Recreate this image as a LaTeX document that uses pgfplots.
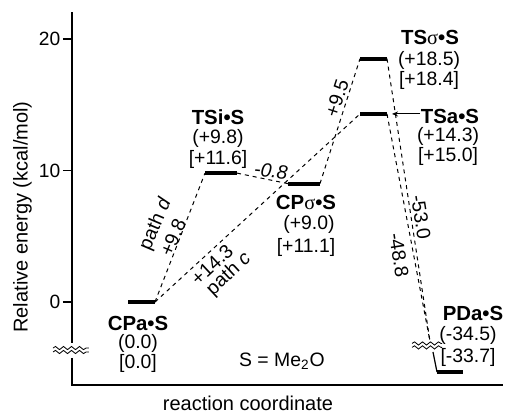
\documentclass[border=0pt]{standalone}
\usepackage{fontspec}
\setmainfont{Liberation Sans}
\newfontfamily\serifsym{Liberation Serif}
\usepackage{pgfplots}
\pgfplotsset{compat=1.18}
\usetikzlibrary{decorations.pathmorphing,arrows.meta}
\newcommand{\sig}{{\serifsym\mdseries σ}}
\newcommand{\bt}{\textbullet}
\begin{document}
\begin{tikzpicture}[font=\fontsize{9.7}{11}\selectfont]
\path[use as bounding box] (-36pt,-14.5pt) rectangle (218pt,192.5pt);
\begin{axis}[at={(0,0)}, anchor=south west, scale only axis,
  width=215.5pt, height=186.5pt,
  xmin=72, xmax=503, ymin=-6.31, ymax=22.05,
  axis x line*=bottom, axis y line*=left,
  axis line style={draw=none},
  xtick=\empty, ytick={0,10,20},
  tick align=outside, major tick length=4.5pt,
  tick style={black, line width=0.6pt},
  /pgf/number format/assume math mode=true,
  yticklabel style={font=\fontsize{9.6}{11}\selectfont, inner sep=1.2pt},
  clip=false]
% axis spines
\draw[line width=0.6pt] (axis cs:72,22.05) -- (axis cs:72,-3.1);
\draw[line width=0.6pt] (axis cs:72,-4.25) -- (axis cs:72,-6.31) -- (axis cs:503,-6.31);
\draw[line width=0.4pt, decorate, decoration={snake, segment length=4pt, amplitude=0.8pt}] (axis cs:53,-3.5) -- (axis cs:89,-3.5);
\draw[line width=0.4pt, decorate, decoration={snake, segment length=4pt, amplitude=0.8pt}] (axis cs:53,-3.8) -- (axis cs:89,-3.8);
\draw[line width=0.4pt, decorate, decoration={snake, segment length=4pt, amplitude=0.8pt}] (axis cs:412,-3.15) -- (axis cs:442,-3.15);
\draw[line width=0.4pt, decorate, decoration={snake, segment length=4pt, amplitude=0.8pt}] (axis cs:412,-3.45) -- (axis cs:442,-3.45);
% levels
\addplot[black, line width=1.9pt, no marks] coordinates {(128,0) (155,0)};
\addplot[black, line width=1.9pt, no marks] coordinates {(205,9.8) (237,9.8)};
\addplot[black, line width=1.9pt, no marks] coordinates {(288,9.0) (320,9.0)};
\addplot[black, line width=1.9pt, no marks] coordinates {(360,18.5) (387,18.5)};
\addplot[black, line width=1.9pt, no marks] coordinates {(360,14.3) (387,14.3)};
\addplot[black, line width=1.9pt, no marks] coordinates {(437,-5.32) (463,-5.32)};
\addplot[black, line width=0.6pt, no marks] coordinates {(433,-3.8) (437,-5.32)};
% connectors
\addplot[black, line width=0.5pt, dash pattern=on 2pt off 2pt, no marks] coordinates {(155,0) (205,9.8)};
\addplot[black, line width=0.5pt, dash pattern=on 2pt off 2pt, no marks] coordinates {(155,0) (360,14.3)};
\addplot[black, line width=0.5pt, dash pattern=on 2pt off 2pt, no marks] coordinates {(237,9.8) (288,9.0)};
\addplot[black, line width=0.5pt, dash pattern=on 2pt off 2pt, no marks] coordinates {(320,9.0) (360,18.5)};
\addplot[black, line width=0.5pt, dash pattern=on 2pt off 2pt, no marks] coordinates {(387,18.5) (430,-3.0)};
\addplot[black, line width=0.5pt, dash pattern=on 2pt off 2pt, no marks] coordinates {(387,14.3) (430,-3.0)};
% arrow
\draw[line width=0.5pt, -{Stealth[length=3pt,width=2.5pt]}] (axis cs:420,14.3) -- (axis cs:392,14.3);
% labels
\tikzset{lbl/.style={font=\fontsize{10.2}{12}\selectfont\bfseries}}
\node[lbl] at (axis cs:218,14.07) {TSi\bt S};
\node at (axis cs:218,12.47) {(+9.8)};
\node at (axis cs:218,10.87) {[+11.6]};
\node[lbl] at (axis cs:138,-1.60) {CPa\bt S};
\node at (axis cs:138,-3.12) {(0.0)};
\node at (axis cs:138,-4.64) {[0.0]};
\node[lbl] at (axis cs:306,7.60) {CP\sig\bt S};
\node at (axis cs:309,5.86) {(+9.0)};
\node at (axis cs:306,4.11) {[+11.1]};
\node[lbl] at (axis cs:430,20.15) {TS\sig\bt S};
\node at (axis cs:429,18.40) {(+18.5)};
\node at (axis cs:429,16.88) {[+18.4]};
\node[lbl] at (axis cs:450,14.14) {TSa\bt S};
\node at (axis cs:448,12.55) {(+14.3)};
\node at (axis cs:448,11.03) {[+15.0]};
\node[lbl] at (axis cs:473,-0.84) {PDa\bt S};
\node at (axis cs:468,-2.51) {(-34.5)};
\node at (axis cs:468,-4.18) {[-33.7]};
\node at (axis cs:282,-4.49) {S = Me\textsubscript{2}O};
% path labels
\node[rotate=67] at (axis cs:156,5.9) {path \textit{d}};
\node[rotate=67] at (axis cs:173,4.9) {+9.8};
\node[rotate=43] at (axis cs:212,2.85) {+14.3};
\node[rotate=43] at (axis cs:229,2.1) {path \textit{c}};
\node[rotate=-6, font=\fontsize{9.7}{11}\selectfont\itshape] at (axis cs:271,9.96) {-0.8};
\node[rotate=72] at (axis cs:337,15.51) {+9.5};
\node[rotate=-81] at (axis cs:421,6.46) {-53.0};
\node[rotate=-81] at (axis cs:399,3.57) {-48.8};
% axis titles
\node[rotate=90, font=\fontsize{10}{12}\selectfont] at (axis cs:22.5,6.46) {Relative energy (kcal/mol)};
\node[font=\fontsize{10}{12}\selectfont] at (axis cs:248,-7.68) {reaction coordinate};
\end{axis}
\end{tikzpicture}
\end{document}
